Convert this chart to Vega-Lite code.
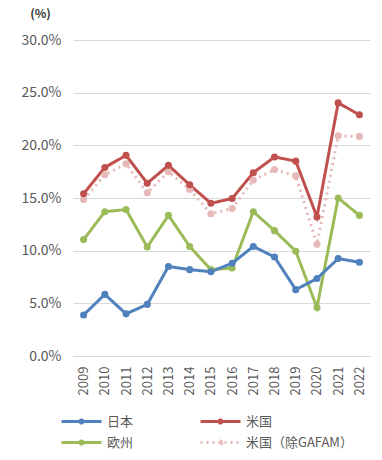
{
  "$schema": "https://vega.github.io/schema/vega-lite/v6.json",
  "width": 297,
  "height": 316,
  "autosize": "none",
  "padding": {"left": 73, "top": 40, "right": 12, "bottom": 104},
  "background": "white",
  "config": {
    "font": "Noto Sans CJK JP",
    "view": {"stroke": null}
  },
  "data": {
    "values": [
      {"year": "2009", "series": "米国（除GAFAM）", "value": 0.1485},
      {"year": "2010", "series": "米国（除GAFAM）", "value": 0.172},
      {"year": "2011", "series": "米国（除GAFAM）", "value": 0.1825},
      {"year": "2012", "series": "米国（除GAFAM）", "value": 0.155},
      {"year": "2013", "series": "米国（除GAFAM）", "value": 0.175},
      {"year": "2014", "series": "米国（除GAFAM）", "value": 0.158},
      {"year": "2015", "series": "米国（除GAFAM）", "value": 0.135},
      {"year": "2016", "series": "米国（除GAFAM）", "value": 0.14},
      {"year": "2017", "series": "米国（除GAFAM）", "value": 0.167},
      {"year": "2018", "series": "米国（除GAFAM）", "value": 0.177},
      {"year": "2019", "series": "米国（除GAFAM）", "value": 0.171},
      {"year": "2020", "series": "米国（除GAFAM）", "value": 0.106},
      {"year": "2021", "series": "米国（除GAFAM）", "value": 0.209},
      {"year": "2022", "series": "米国（除GAFAM）", "value": 0.2085},
      {"year": "2009", "series": "欧州", "value": 0.1105},
      {"year": "2010", "series": "欧州", "value": 0.137},
      {"year": "2011", "series": "欧州", "value": 0.139},
      {"year": "2012", "series": "欧州", "value": 0.1035},
      {"year": "2013", "series": "欧州", "value": 0.1335},
      {"year": "2014", "series": "欧州", "value": 0.104},
      {"year": "2015", "series": "欧州", "value": 0.082},
      {"year": "2016", "series": "欧州", "value": 0.0835},
      {"year": "2017", "series": "欧州", "value": 0.137},
      {"year": "2018", "series": "欧州", "value": 0.119},
      {"year": "2019", "series": "欧州", "value": 0.0995},
      {"year": "2020", "series": "欧州", "value": 0.046},
      {"year": "2021", "series": "欧州", "value": 0.15},
      {"year": "2022", "series": "欧州", "value": 0.1335},
      {"year": "2009", "series": "米国", "value": 0.154},
      {"year": "2010", "series": "米国", "value": 0.179},
      {"year": "2011", "series": "米国", "value": 0.1905},
      {"year": "2012", "series": "米国", "value": 0.164},
      {"year": "2013", "series": "米国", "value": 0.181},
      {"year": "2014", "series": "米国", "value": 0.1625},
      {"year": "2015", "series": "米国", "value": 0.145},
      {"year": "2016", "series": "米国", "value": 0.1495},
      {"year": "2017", "series": "米国", "value": 0.174},
      {"year": "2018", "series": "米国", "value": 0.189},
      {"year": "2019", "series": "米国", "value": 0.185},
      {"year": "2020", "series": "米国", "value": 0.132},
      {"year": "2021", "series": "米国", "value": 0.2403},
      {"year": "2022", "series": "米国", "value": 0.229},
      {"year": "2009", "series": "日本", "value": 0.039},
      {"year": "2010", "series": "日本", "value": 0.0585},
      {"year": "2011", "series": "日本", "value": 0.04},
      {"year": "2012", "series": "日本", "value": 0.049},
      {"year": "2013", "series": "日本", "value": 0.085},
      {"year": "2014", "series": "日本", "value": 0.082},
      {"year": "2015", "series": "日本", "value": 0.08},
      {"year": "2016", "series": "日本", "value": 0.088},
      {"year": "2017", "series": "日本", "value": 0.104},
      {"year": "2018", "series": "日本", "value": 0.094},
      {"year": "2019", "series": "日本", "value": 0.063},
      {"year": "2020", "series": "日本", "value": 0.0735},
      {"year": "2021", "series": "日本", "value": 0.0925},
      {"year": "2022", "series": "日本", "value": 0.089}
    ]
  },
  "mark": {
    "type": "line",
    "strokeWidth": 3,
    "point": {"filled": true, "size": 50, "opacity": 1}
  },
  "encoding": {
    "x": {
      "field": "year",
      "type": "ordinal",
      "sort": null,
      "scale": {"type": "point", "padding": 0.5},
      "axis": {
        "title": null,
        "labelAngle": 270,
        "labelFontSize": 13,
        "labelColor": "#595959",
        "labelPadding": 10,
        "ticks": false,
        "domain": true,
        "domainColor": "#d9d9d9",
        "grid": false
      }
    },
    "y": {
      "field": "value",
      "type": "quantitative",
      "scale": {"domain": [0, 0.3], "nice": false},
      "axis": {
        "values": [0, 0.05, 0.1, 0.15, 0.2, 0.25, 0.3],
        "format": ".1%",
        "labelFontSize": 14,
        "labelColor": "#595959",
        "labelPadding": 12,
        "ticks": false,
        "domain": false,
        "gridColor": "#d9d9d9",
        "title": "(%)",
        "titleAngle": 0,
        "titleAlign": "center",
        "titleBaseline": "middle",
        "titleX": -33,
        "titleY": -27,
        "titleFontSize": 12,
        "titleFontWeight": "bold",
        "titleColor": "#333333"
      }
    },
    "color": {
      "field": "series",
      "type": "nominal",
      "scale": {
        "domain": ["日本", "米国", "欧州", "米国（除GAFAM）"],
        "range": ["#4f81bd", "#c0504d", "#9bbb59", "#e6b9b8"]
      },
      "legend": {
        "title": null,
        "orient": "none",
        "direction": "horizontal",
        "legendX": -13,
        "legendY": 375,
        "columns": 2,
        "columnPadding": 60,
        "rowPadding": 6,
        "labelFontSize": 13,
        "labelColor": "#595959",
        "symbolType": "M-1,0H7M3.3,0A0.3,0.3,0,1,1,2.7,0A0.3,0.3,0,1,1,3.3,0",
        "symbolSize": 100,
        "symbolStrokeWidth": 3,
        "labelOffset": 34
      }
    },
    "strokeDash": {
      "field": "series",
      "type": "nominal",
      "scale": {
        "domain": ["日本", "米国", "欧州", "米国（除GAFAM）"],
        "range": [[1, 0], [1, 0], [1, 0], [2, 4]]
      },
      "legend": null
    }
  }
}
